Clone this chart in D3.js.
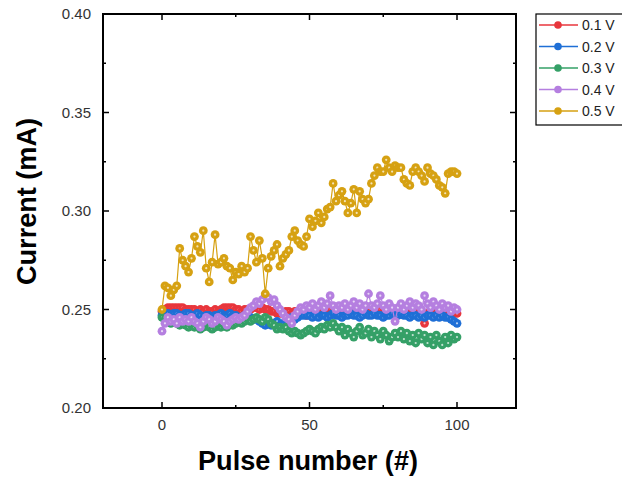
<!DOCTYPE html>
<html><head><meta charset="utf-8">
<script src="https://cdn.jsdelivr.net/npm/d3@7"></script>
<style>body{margin:0;background:#fff;}svg{display:block;font-family:"Liberation Sans",Arial,sans-serif;}</style>
</head><body>
<svg id="chart" width="622" height="479"></svg>
<script>
const seriesNames = ["0.1 V","0.2 V","0.3 V","0.4 V","0.5 V"];
const seriesColors = ["#e8363c","#1f6fd6","#35a067","#b57fe0","#d6a112"];
const xTicks = [0,50,100];
const yTicks = [0.20,0.25,0.30,0.35,0.40];
const red = [0.249,0.250,0.251,0.251,0.251,0.251,0.251,0.251,0.250,0.250,
0.250,0.250,0.249,0.250,0.249,0.250,0.249,0.249,0.250,0.249,
0.250,0.251,0.251,0.251,0.251,0.250,0.250,0.249,0.250,0.250,
0.250,0.251,0.251,0.250,0.251,0.250,0.250,0.249,0.249,0.248,
0.248,0.248,0.249,0.249,0.248,0.249,0.249,0.248,0.248,0.247,
0.248,0.248,0.249,0.248,0.249,0.249,0.250,0.250,0.249,0.249,
0.249,0.249,0.248,0.249,0.249,0.249,0.250,0.249,0.249,0.249,
0.249,0.250,0.249,0.249,0.250,0.249,0.249,0.249,0.249,0.249,
0.249,0.249,0.249,0.250,0.250,0.249,0.249,0.248,0.247,0.243,
0.248,0.249,0.249,0.248,0.249,0.248,0.248,0.249,0.248,0.248,0.248];
const blue = [0.247,0.248,0.248,0.247,0.248,0.248,0.247,0.247,0.248,0.248,
0.247,0.247,0.248,0.247,0.246,0.247,0.247,0.246,0.247,0.247,
0.248,0.247,0.247,0.248,0.247,0.247,0.246,0.246,0.247,0.246,
0.246,0.245,0.245,0.244,0.243,0.242,0.243,0.242,0.243,0.244,
0.242,0.243,0.244,0.245,0.246,0.245,0.246,0.247,0.247,0.247,
0.247,0.246,0.247,0.246,0.247,0.247,0.246,0.247,0.248,0.247,
0.247,0.246,0.247,0.247,0.248,0.247,0.247,0.246,0.247,0.248,
0.247,0.247,0.248,0.247,0.247,0.246,0.247,0.247,0.248,0.247,
0.247,0.248,0.247,0.247,0.246,0.247,0.247,0.246,0.247,0.246,
0.247,0.247,0.246,0.247,0.246,0.247,0.246,0.246,0.245,0.244,0.243];
const green = [0.246,0.245,0.244,0.243,0.244,0.243,0.242,0.243,0.242,0.241,
0.242,0.241,0.242,0.240,0.241,0.242,0.241,0.240,0.241,0.242,
0.241,0.242,0.241,0.243,0.242,0.243,0.244,0.243,0.244,0.245,
0.244,0.245,0.246,0.245,0.244,0.246,0.245,0.243,0.242,0.240,
0.241,0.240,0.241,0.239,0.238,0.239,0.238,0.237,0.238,0.239,
0.240,0.239,0.238,0.240,0.241,0.240,0.242,0.241,0.243,0.241,
0.239,0.241,0.237,0.240,0.238,0.236,0.239,0.241,0.237,0.238,
0.240,0.236,0.239,0.237,0.235,0.239,0.237,0.234,0.236,0.238,
0.236,0.239,0.235,0.238,0.234,0.237,0.233,0.238,0.235,0.237,
0.233,0.236,0.232,0.237,0.234,0.232,0.236,0.233,0.237,0.235,0.236];
const purple = [0.239,0.243,0.246,0.244,0.245,0.243,0.246,0.244,0.245,0.244,
0.246,0.244,0.243,0.241,0.244,0.246,0.245,0.243,0.244,0.246,
0.245,0.244,0.242,0.244,0.245,0.246,0.245,0.246,0.247,0.249,
0.251,0.252,0.254,0.253,0.255,0.257,0.256,0.254,0.255,0.252,
0.250,0.248,0.246,0.245,0.243,0.247,0.249,0.251,0.250,0.252,
0.251,0.253,0.250,0.252,0.254,0.251,0.253,0.257,0.252,0.250,
0.252,0.251,0.253,0.250,0.252,0.254,0.251,0.253,0.250,0.252,
0.258,0.252,0.251,0.253,0.257,0.252,0.250,0.253,0.251,0.244,
0.251,0.253,0.250,0.252,0.254,0.251,0.253,0.252,0.250,0.257,
0.253,0.251,0.254,0.252,0.250,0.253,0.251,0.252,0.249,0.251,0.250];
const gold = [0.250,0.262,0.261,0.257,0.260,0.262,0.281,0.275,0.272,0.269,
0.276,0.287,0.282,0.279,0.290,0.271,0.264,0.274,0.288,0.273,
0.274,0.276,0.272,0.271,0.265,0.269,0.268,0.272,0.269,0.271,
0.287,0.280,0.274,0.285,0.276,0.258,0.271,0.277,0.280,0.283,
0.272,0.276,0.278,0.280,0.287,0.290,0.285,0.283,0.282,0.287,
0.296,0.292,0.295,0.299,0.294,0.297,0.301,0.302,0.314,0.305,
0.308,0.310,0.305,0.299,0.304,0.311,0.299,0.310,0.306,0.304,
0.306,0.314,0.318,0.322,0.320,0.320,0.326,0.322,0.320,0.323,
0.322,0.322,0.316,0.314,0.313,0.320,0.322,0.320,0.318,0.315,
0.322,0.319,0.318,0.316,0.313,0.312,0.309,0.319,0.320,0.320,0.319];
const allSeries = [red, blue, green, purple, gold];

const svg = d3.select("#chart");
const L = 103, R = 516, T = 14, B = 408;
const x = d3.scaleLinear().domain([-20,120]).range([L,R]);
const y = d3.scaleLinear().domain([0.20,0.40]).range([B,T]);

// data
allSeries.forEach((vals, si) => {
  const g = svg.append("g");
  const line = d3.line().x((d,i)=>x(i)).y(d=>y(d));
  g.append("path").datum(vals).attr("d", line).attr("fill","none")
    .attr("stroke", seriesColors[si]).attr("stroke-width",1.2);
  const pts = g.selectAll("g.pt").data(vals).enter().append("g")
    .attr("transform",(d,i)=>`translate(${x(i)},${y(d)})`);
  pts.append("circle").attr("r",4.4).attr("fill",seriesColors[si]);
  pts.append("circle").attr("r",1.1).attr("fill","#fff").attr("opacity",0.7);
});

// frame
svg.append("rect").attr("x",L).attr("y",T).attr("width",R-L).attr("height",B-T)
  .attr("fill","none").attr("stroke","#000").attr("stroke-width",2);

// ticks
const xMinor = [25,75];
const yMinor = [0.225,0.275,0.325,0.375];
const tk = svg.append("g").attr("stroke","#000").attr("stroke-width",1.5);
xTicks.forEach(v=>{
  tk.append("line").attr("x1",x(v)).attr("x2",x(v)).attr("y1",B).attr("y2",B-6);
  tk.append("line").attr("x1",x(v)).attr("x2",x(v)).attr("y1",T).attr("y2",T+6);
});
xMinor.forEach(v=>{
  tk.append("line").attr("x1",x(v)).attr("x2",x(v)).attr("y1",B).attr("y2",B-3);
  tk.append("line").attr("x1",x(v)).attr("x2",x(v)).attr("y1",T).attr("y2",T+3);
});
yTicks.forEach(v=>{
  tk.append("line").attr("x1",L).attr("x2",L+6).attr("y1",y(v)).attr("y2",y(v));
  tk.append("line").attr("x1",R).attr("x2",R-6).attr("y1",y(v)).attr("y2",y(v));
});
yMinor.forEach(v=>{
  tk.append("line").attr("x1",L).attr("x2",L+3).attr("y1",y(v)).attr("y2",y(v));
  tk.append("line").attr("x1",R).attr("x2",R-3).attr("y1",y(v)).attr("y2",y(v));
});

// tick labels
svg.append("g").selectAll("text").data(xTicks).enter().append("text")
  .attr("x",d=>x(d)).attr("y",B+22).attr("text-anchor","middle")
  .attr("font-size",15).attr("fill","#333").text(d=>d);
svg.append("g").selectAll("text").data(yTicks).enter().append("text")
  .attr("x",L-12).attr("y",d=>y(d)+5).attr("text-anchor","end")
  .attr("font-size",15).attr("fill","#333").text(d=>d.toFixed(2));

// axis titles
svg.append("text").attr("x",308).attr("y",470).attr("text-anchor","middle")
  .attr("font-size",27).attr("font-weight","bold").attr("fill","#000")
  .attr("textLength",220).attr("lengthAdjust","spacingAndGlyphs").text("Pulse number (#)");
svg.append("text").attr("transform",`translate(36,201.5) rotate(-90)`)
  .attr("text-anchor","middle").attr("font-size",27).attr("font-weight","bold")
  .attr("textLength",167).attr("lengthAdjust","spacingAndGlyphs")
  .attr("fill","#000").text("Current (mA)");

// legend
const lg = svg.append("g");
lg.append("rect").attr("x",536).attr("y",14).attr("width",100).attr("height",111)
  .attr("fill","#fff").attr("stroke","#000").attr("stroke-width",1.2);
seriesNames.forEach((n,i)=>{
  const yy = 25 + i*21.5;
  lg.append("line").attr("x1",539).attr("x2",578).attr("y1",yy).attr("y2",yy)
    .attr("stroke",seriesColors[i]).attr("stroke-width",1.3);
  lg.append("circle").attr("cx",558).attr("cy",yy).attr("r",3.8).attr("fill",seriesColors[i]);
  lg.append("text").attr("x",582).attr("y",yy+5).attr("font-size",14).attr("fill","#222").text(n);
});
</script>
</body></html>
